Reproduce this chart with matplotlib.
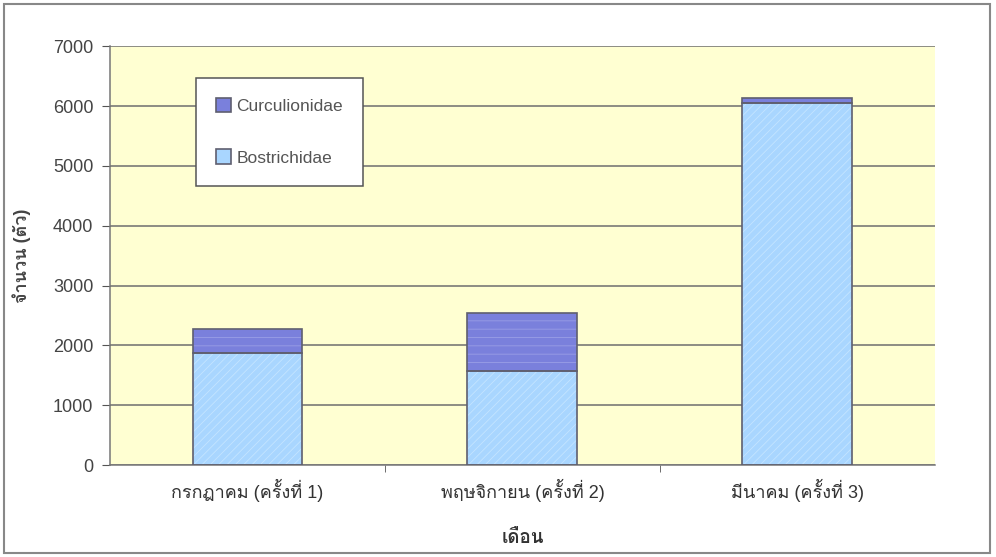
import numpy as np
import matplotlib
matplotlib.use("Agg")
import matplotlib.pyplot as plt
from matplotlib import font_manager
from matplotlib.ft2font import FT2Font
from matplotlib.patches import Rectangle

# data
months = ["กรกฎาคม (ครั้งที่ 1)", "พฤษจิกายน (ครั้งที่ 2)", "มีนาคม (ครั้งที่ 3)"]
bostrichidae = [1870, 1580, 6050]
curculionidae = [410, 965, 90]

# find a font that has Thai glyphs
thai_family = None
for f in font_manager.fontManager.ttflist:
    try:
        if 0x0E01 in FT2Font(f.fname).get_charmap():
            thai_family = f.name
            break
    except Exception:
        pass
fams = ["Liberation Sans"] + ([thai_family] if thai_family else []) + ["DejaVu Sans"]
plt.rcParams["font.family"] = fams
plt.rcParams["hatch.linewidth"] = 0.6

fig = plt.figure(figsize=(9.96, 5.57), dpi=100)
ax = fig.add_axes([0.1105, 0.165, 0.828, 0.752])
ax.set_facecolor("#ffffd2")

x = np.arange(len(months))
w = 0.4
edge = "#5f5f6f"

# fills
ax.bar(x, bostrichidae, w, color="#a9d6ff", linewidth=0, zorder=2)
ax.bar(x, curculionidae, w, bottom=bostrichidae, color="#7a80dc", linewidth=0, zorder=2)
# light texture on the bars
ax.bar(x, bostrichidae, w, color="none", edgecolor="#c4e4ff", hatch="////", linewidth=0, zorder=2.5)
ax.bar(x, curculionidae, w, bottom=bostrichidae, color="none", edgecolor="#9a9ee6",
       hatch="--", linewidth=0, zorder=2.5)
# outlines
ax.bar(x, bostrichidae, w, color="none", edgecolor=edge, linewidth=1.2, zorder=3)
ax.bar(x, curculionidae, w, bottom=bostrichidae, color="none", edgecolor=edge,
       linewidth=1.2, zorder=3)

ax.set_ylim(0, 7000)
ax.set_xlim(-0.5, 2.5)
ax.set_yticks(np.arange(0, 7001, 1000))
ax.yaxis.grid(True, color="#6e6e6e", linewidth=1.1, zorder=1)
ax.set_axisbelow(True)

ax.set_xticks(x)
ax.set_xticklabels(months, fontsize=13, color="#333333")
ax.tick_params(axis="x", length=0, pad=10)
ax.set_xticks([0.5, 1.5], minor=True)
ax.tick_params(axis="x", which="minor", length=5, color="#555555")
ax.tick_params(axis="y", labelsize=13, labelcolor="#444444", length=6, color="#555555", pad=6)

for s in ["top", "right"]:
    ax.spines[s].set_visible(False)
for s in ["left", "bottom"]:
    ax.spines[s].set_color("#777777")
    ax.spines[s].set_linewidth(1.1)

ax.set_ylabel("จำนวน (ตัว)", fontsize=13, fontweight="bold", color="#444444", labelpad=16)
ax.set_xlabel("เดือน", fontsize=13.5, fontweight="bold", color="#333333", labelpad=20)

h_cur = Rectangle((0, 0), 1, 1, facecolor="#7a80dc", edgecolor=edge, linewidth=1.2)
h_bos = Rectangle((0, 0), 1, 1, facecolor="#a9d6ff", edgecolor=edge, linewidth=1.2)
leg = ax.legend([h_cur, h_bos], ["Curculionidae", "Bostrichidae"], loc="upper left",
                bbox_to_anchor=(0.104, 0.925), fontsize=12.5, frameon=True, fancybox=False,
                edgecolor="#555555", framealpha=1, labelspacing=2.05, handlelength=0.85,
                handleheight=0.9, handletextpad=0.35, borderpad=1.15, borderaxespad=0)
for t in leg.get_texts():
    t.set_color("#555555")
leg.get_frame().set_linewidth(1.1)

# outer chart frame
fig.patches.append(Rectangle((0.004, 0.008), 0.99, 0.985, transform=fig.transFigure,
                             fill=False, edgecolor="#888888", linewidth=1.5))

fig.savefig("out.png", dpi=100)
